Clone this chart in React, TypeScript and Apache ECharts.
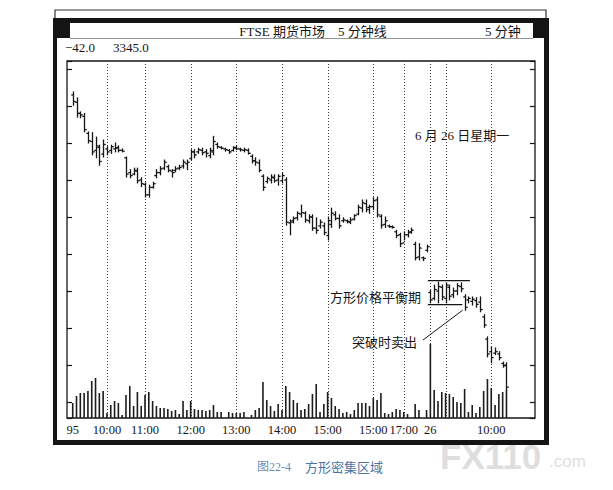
import React, { useEffect, useRef } from 'react';
import * as echarts from 'echarts';

// 5-minute slots on the time axis (two sessions: 23rd and 26th)
const SLOT_COUNT = 123;

const labelSlots = [1, 10, 20, 32, 44, 56, 68, 80, 88, 95, 111];
const labelTexts = ['95', '10:00', '11:00', '12:00', '13:00', '14:00', '15:00', '15:00', '17:00', '26', '10:00'];
const gridSlots = [10, 20, 32, 44, 56, 68, 80, 88, 95, 99, 111];

// OHLC per slot (null = no bar)
const opens = [
  null, 3381.5, 3380.5, 3379.0, 3378.6, 3376.3, 3375.2, 3374.0, 3374.4, 3373.5,
  3374.2, 3374.0, 3374.2, 3374.4, 3374.0, 3373.0, 3371.0, 3370.8, 3371.2, 3370.0,
  3369.4, 3368.0, 3369.0, 3370.6, 3371.0, 3371.6, 3371.8, 3371.2, 3371.3, 3371.6,
  3371.9, 3372.2, 3372.9, 3373.8, 3373.8, 3374.0, 3373.8, 3373.3, 3373.8, 3374.8,
  3374.4, 3374.2, 3374.0, 3374.0, 3374.3, 3374.2, 3374.0, 3374.0, 3373.2, 3372.6,
  3372.3, 3370.5, 3369.8, 3370.0, 3370.3, 3370.0, 3369.9, 3370.0, 3364.2, 3364.5,
  3364.9, 3365.4, 3365.5, 3364.5, 3365.0, 3363.5, 3363.8, 3363.8, 3362.5, 3364.0,
  3365.3, 3364.8, 3364.5, 3364.5, 3364.3, 3364.7, 3365.4, 3366.2, 3366.8, 3366.3,
  3366.4, 3367.3, 3365.1, 3364.0, 3363.8, 3363.7, 3363.0, 3362.6, 3361.5, 3362.6,
  3363.0, 3361.3, 3359.6, 3359.5, 3360.5, 3354.8, 3354.0, 3355.0, 3355.5, 3354.0,
  3355.5, 3354.5, 3355.0, 3355.6, 3354.2, 3353.8, 3353.6, 3353.7, 3353.5, 3351.5,
  3348.5, 3346.8, 3346.6, 3346.5, 3345.2, 3345.0,
];
const highs = [
  null, 3381.9, 3381.1, 3379.2, 3379.0, 3376.5, 3376.4, 3375.8, 3374.7, 3375.4,
  3374.5, 3374.7, 3375.0, 3374.6, 3374.2, 3373.1, 3371.4, 3371.6, 3371.6, 3370.3,
  3369.6, 3369.3, 3369.7, 3371.4, 3371.8, 3372.7, 3372.0, 3371.4, 3371.8, 3372.0,
  3372.7, 3372.7, 3374.1, 3374.1, 3374.3, 3374.3, 3374.1, 3374.3, 3375.9, 3375.0,
  3374.5, 3374.3, 3374.1, 3374.5, 3374.6, 3374.3, 3374.3, 3374.2, 3373.4, 3373.0,
  3372.7, 3370.7, 3370.4, 3370.7, 3370.7, 3370.7, 3370.9, 3370.3, 3364.6, 3365.0,
  3365.7, 3366.6, 3365.7, 3365.3, 3365.3, 3364.9, 3364.6, 3364.2, 3365.0, 3366.2,
  3365.7, 3365.3, 3364.9, 3364.6, 3364.9, 3365.3, 3366.6, 3367.3, 3367.3, 3366.6,
  3367.6, 3367.7, 3365.3, 3365.0, 3363.9, 3363.8, 3363.2, 3362.8, 3363.0, 3363.2,
  3363.5, 3361.6, 3361.4, 3359.6, 3361.2, 3355.1, 3355.8, 3356.2, 3355.8, 3356.1,
  3355.8, 3355.4, 3356.0, 3356.1, 3354.5, 3354.2, 3354.2, 3354.1, 3354.2, 3351.8,
  3348.8, 3347.4, 3347.3, 3346.8, 3345.4, 3345.3,
];
const lows = [
  null, 3380.1, 3378.5, 3378.4, 3376.5, 3375.0, 3373.4, 3373.0, 3372.0, 3373.1,
  3373.4, 3373.6, 3373.8, 3373.8, 3373.8, 3370.4, 3370.3, 3370.7, 3369.6, 3369.1,
  3367.7, 3367.7, 3368.9, 3370.3, 3370.7, 3371.4, 3371.1, 3370.4, 3371.1, 3371.4,
  3371.6, 3371.4, 3372.7, 3373.0, 3373.6, 3373.4, 3373.1, 3373.0, 3373.4, 3374.3,
  3374.2, 3373.9, 3373.6, 3373.9, 3374.1, 3373.9, 3373.8, 3373.5, 3372.3, 3372.0,
  3371.1, 3368.6, 3369.6, 3369.6, 3369.7, 3369.3, 3369.6, 3363.9, 3362.6, 3364.2,
  3364.6, 3365.0, 3364.3, 3364.2, 3363.2, 3362.8, 3363.5, 3362.6, 3361.9, 3363.6,
  3364.6, 3363.5, 3364.3, 3364.2, 3364.1, 3364.6, 3365.3, 3365.7, 3365.7, 3365.5,
  3366.0, 3365.0, 3363.5, 3363.6, 3363.6, 3363.5, 3362.2, 3361.0, 3361.9, 3362.3,
  3362.8, 3359.2, 3359.2, 3359.1, 3360.3, 3353.4, 3353.8, 3353.4, 3353.8, 3353.4,
  3353.8, 3354.1, 3354.5, 3354.9, 3352.4, 3353.4, 3353.1, 3352.8, 3352.2, 3350.1,
  3346.1, 3345.3, 3346.4, 3345.7, 3344.7, 3341.6,
];
const closes = [
  null, 3380.6, 3379.0, 3378.8, 3376.8, 3375.3, 3373.8, 3374.6, 3372.5, 3374.8,
  3373.8, 3374.5, 3374.3, 3374.0, 3373.9, 3370.8, 3370.6, 3371.3, 3369.9, 3369.5,
  3368.0, 3369.0, 3369.5, 3371.0, 3371.5, 3372.4, 3371.3, 3371.0, 3371.5, 3371.7,
  3372.4, 3372.4, 3373.8, 3373.4, 3374.1, 3373.7, 3373.6, 3374.0, 3375.2, 3374.5,
  3374.3, 3374.1, 3373.8, 3374.4, 3374.2, 3374.1, 3374.1, 3373.6, 3372.6, 3372.4,
  3371.3, 3369.0, 3370.2, 3370.4, 3369.9, 3370.5, 3370.6, 3364.3, 3364.3, 3364.8,
  3365.5, 3365.6, 3364.6, 3365.0, 3363.5, 3363.2, 3364.3, 3362.9, 3364.5, 3365.5,
  3364.8, 3363.8, 3364.6, 3364.4, 3364.6, 3365.2, 3366.3, 3366.9, 3366.0, 3366.4,
  3367.2, 3365.3, 3363.9, 3364.5, 3363.7, 3363.6, 3362.5, 3361.4, 3362.6, 3362.9,
  3363.2, 3359.5, 3360.8, 3359.4, 3361.0, 3353.8, 3355.2, 3355.6, 3354.2, 3355.8,
  3354.3, 3355.0, 3355.7, 3355.3, 3352.8, 3354.0, 3353.9, 3353.2, 3352.5, 3350.4,
  3346.5, 3346.0, 3346.8, 3346.0, 3344.9, 3342.0,
];
const volumes = [
  null, 15, 22, 25, 25, 27, 37, 40, 25, 27,
  5, 13, 17, 15, 3, 23, 32, 12, 26, 12,
  23, 26, 17, 12, 10, 10, 9, 7, 8, 4,
  17, 8, 17, 9, 8, 8, 7, 8, 13, 6,
  6, null, 6, 5, 5, 5, 6, null, 3, 8,
  10, 36, 18, 12, 7, 14, 8, 32, 26, 18,
  15, 8, 9, 14, 24, 34, 6, 14, 26, 20,
  12, 9, 5, 6, 4, 8, 15, 15, 15, 12,
  20, 18, 25, 5, 4, 6, 9, 8, 6, 4,
  null, 14, 8, null, 8, 74, 28, 17, 26, 25,
  24, 21, 16, 15, 29, 6, 13, 5, 11, 27,
  39, 30, 13, 24, 26, 28,
];

// consolidation box (bars of the 26th before the breakout) and breakout bar
const boxFirst = 95;
const boxLast = 103;
const breakoutSlot = 104;

const PRICE_MIN = 3337.84;
const PRICE_MAX = 3386.08;

const SERIF = '"Liberation Serif","Noto Sans CJK SC",serif';
const INK = '#161616';

function pad<T>(arr: (T | null)[]): (T | null)[] {
  const out = arr.slice();
  while (out.length < SLOT_COUNT) out.push(null);
  return out;
}

function txt(text: string, x: number, y: number, size: number, extra: any = {}) {
  return {
    type: 'text',
    x,
    y,
    z: 50,
    silent: true,
    style: {
      text,
      fontSize: size,
      fontFamily: SERIF,
      fill: INK,
      align: extra.align || 'left',
      verticalAlign: 'middle',
      textAlign: extra.align || 'left',
      textVerticalAlign: 'middle',
      ...(extra.style || {}),
    },
  };
}

export default function App() {
  const ref = useRef<HTMLDivElement>(null);

  useEffect(() => {
    if (!ref.current) return;
    const chart = echarts.init(ref.current, undefined, { renderer: 'svg' });

    const categories = Array.from({ length: SLOT_COUNT }, (_, i) => String(i));
    const labelFor = (i: number) => {
      const k = labelSlots.indexOf(i);
      return k >= 0 ? labelTexts[k] : '';
    };

    const o = pad(opens), h = pad(highs), l = pad(lows), c = pad(closes);
    const ohlc: number[][] = [];
    for (let i = 0; i < SLOT_COUNT; i++) {
      if (h[i] != null) ohlc.push([i, o[i] as number, c[i] as number, l[i] as number, h[i] as number]);
    }

    const markStyle = {
      fontFamily: '"Liberation Sans",sans-serif',
      fontWeight: 'bold',
      fill: 'rgba(200,200,200,0.6)',
      align: 'left',
      verticalAlign: 'middle',
      textAlign: 'left',
      textVerticalAlign: 'middle',
    };

    const frame: any[] = [
      {
        type: 'polyline', z: -5, silent: true,
        shape: { points: [[55, 18], [55, 10], [546, 10], [546, 18]] },
        style: { stroke: '#333', lineWidth: 1.2, fill: 'none' },
      },
      { type: 'rect', z: -5, silent: true, shape: { x: 53, y: 18, width: 496, height: 427 }, style: { fill: '#141414' } },
      { type: 'rect', z: -4, silent: true, shape: { x: 70, y: 23, width: 463, height: 15 }, style: { fill: '#fff' } },
      { type: 'rect', z: -4, silent: true, shape: { x: 57, y: 38, width: 487, height: 402 }, style: { fill: '#fff' } },
      { type: 'line', z: -3, silent: true, shape: { x1: 70, y1: 38.5, x2: 533, y2: 38.5 }, style: { stroke: '#777', lineWidth: 0.8 } },
      txt('FTSE 期货市场\u30005 分钟线', 313, 31, 13, { align: 'center' }),
      txt('5 分钟', 485, 31, 13),
      txt('\u221242.0', 65, 47, 13),
      txt('3345.0', 113, 47, 13),
      txt('6 月 26 日星期一', 415, 135, 13),
      txt('方形价格平衡期', 330, 297, 13),
      txt('突破时卖出', 352, 342, 13),
      txt('图22-4', 257, 467, 12, { style: { fill: '#6f8db3' } }),
      txt('方形密集区域', 305, 467, 13, { style: { fill: '#4a74a6' } }),
      { type: 'text', x: 440, y: 456, z: 80, silent: true, style: { text: 'FX110', fontSize: 35, ...markStyle } },
      { type: 'text', x: 549, y: 461, z: 80, silent: true, style: { text: '.com', fontSize: 17, ...markStyle, fontWeight: 'normal' } },
    ];

    const priceTick = {
      show: true,
      inside: true,
      length: 5,
      lineStyle: { color: INK, width: 1.2 },
    };

    chart.setOption({
      animation: false,
      backgroundColor: '#fff',
      grid: [
        { left: 67, top: 61, width: 468, height: 357, show: true, borderColor: INK, borderWidth: 1.3, backgroundColor: 'transparent', outerBoundsMode: 'none' },
        { left: 67, top: 318, width: 468, height: 100, show: false, outerBoundsMode: 'none' },
      ],
      xAxis: [
        {
          gridIndex: 0, type: 'category', data: categories, boundaryGap: true,
          axisLine: { show: false }, axisTick: { show: false }, axisLabel: { show: false }, splitLine: { show: false },
        },
        {
          gridIndex: 1, type: 'category', data: categories, boundaryGap: true,
          axisLine: { show: false }, axisTick: { show: false }, splitLine: { show: false },
          axisLabel: {
            interval: 0, margin: 6, fontSize: 12.5, fontFamily: SERIF, color: INK,
            formatter: (_v: string, i: number) => labelFor(i),
          },
        },
      ],
      yAxis: [
        {
          gridIndex: 0, type: 'value', position: 'left', min: PRICE_MIN, max: PRICE_MAX,
          splitNumber: 10, minInterval: 5, maxInterval: 5,
          axisLine: { show: false }, axisTick: priceTick, axisLabel: { show: false }, splitLine: { show: false },
        },
        {
          gridIndex: 0, type: 'value', position: 'right', min: PRICE_MIN, max: PRICE_MAX,
          splitNumber: 10, minInterval: 5, maxInterval: 5,
          axisLine: { show: false }, axisTick: priceTick, axisLabel: { show: false }, splitLine: { show: false },
        },
        { gridIndex: 1, type: 'value', min: 0, max: 100, show: false },
      ],
      series: [
        {
          // dotted time gridlines
          type: 'custom',
          xAxisIndex: 0,
          yAxisIndex: 0,
          silent: true,
          z: 1,
          data: gridSlots.map((s) => [s, PRICE_MIN]),
          encode: { x: 0, y: 1 },
          renderItem: (params: any, api: any) => {
            const p = api.coord([api.value(0), PRICE_MIN]);
            const cs = params.coordSys;
            const x = Math.round(p[0]) + 0.5;
            return {
              type: 'line',
              shape: { x1: x, y1: cs.y, x2: x, y2: cs.y + cs.height },
              style: { stroke: '#3a3a3a', lineWidth: 1, lineDash: [1, 2] },
            };
          },
        },
        {
          // OHLC bars
          type: 'custom',
          xAxisIndex: 0,
          yAxisIndex: 0,
          silent: true,
          z: 3,
          data: ohlc,
          encode: { x: 0, y: [1, 2, 3, 4] },
          renderItem: (_params: any, api: any) => {
            const i = api.value(0);
            const pO = api.coord([i, api.value(1)]);
            const pC = api.coord([i, api.value(2)]);
            const pL = api.coord([i, api.value(3)]);
            const pH = api.coord([i, api.value(4)]);
            const x = Math.round(pL[0]) + 0.5;
            const st = { stroke: INK, lineWidth: 1.3 };
            return {
              type: 'group',
              children: [
                { type: 'line', shape: { x1: x, y1: pH[1] - 0.5, x2: x, y2: pL[1] + 0.5 }, style: st },
                { type: 'line', shape: { x1: x - 2.2, y1: pO[1], x2: x, y2: pO[1] }, style: st },
                { type: 'line', shape: { x1: x, y1: pC[1], x2: x + 2.2, y2: pC[1] }, style: st },
              ],
            };
          },
        },
        {
          type: 'bar',
          xAxisIndex: 1,
          yAxisIndex: 2,
          silent: true,
          z: 3,
          barWidth: 1.6,
          data: pad(volumes),
          itemStyle: { color: '#1c1c1c' },
        },
      ],
      graphic: frame,
    });

    // consolidation box lines and pointer, placed from the bar data
    const boxHigh = Math.max(...(highs.slice(boxFirst, boxLast + 1) as number[]));
    const boxLow = Math.min(...(lows.slice(boxFirst, boxLast + 1) as number[]));
    const px = (i: number, v: number) => chart.convertToPixel({ gridIndex: 0 }, [i, v]) as number[];
    const tl = px(boxFirst, boxHigh + 0.2);
    const tr = px(breakoutSlot + 1, boxHigh + 0.2);
    const bl = px(boxFirst, boxLow - 0.25);
    const br = px(boxLast, boxLow - 0.25);
    const tip = px(breakoutSlot, lows[breakoutSlot] as number);
    const lineStyle = { stroke: INK, lineWidth: 1.3 };
    const boxLines: any[] = [
      { type: 'line', z: 40, silent: true, shape: { x1: tl[0] - 2.5, y1: tl[1], x2: tr[0] + 1.5, y2: tr[1] }, style: lineStyle },
      { type: 'line', z: 40, silent: true, shape: { x1: bl[0] - 2.5, y1: bl[1], x2: br[0] + 1.5, y2: br[1] }, style: lineStyle },
      { type: 'line', z: 40, silent: true, shape: { x1: 423, y1: 340, x2: tip[0] - 2, y2: tip[1] }, style: { stroke: INK, lineWidth: 1 } },
    ];
    chart.setOption({ graphic: [...frame, ...boxLines] });

    return () => chart.dispose();
  }, []);

  return (
    <div
      ref={ref}
      style={{ position: 'fixed', left: 0, top: 0, width: 613, height: 490, background: '#fff' }}
    />
  );
}
